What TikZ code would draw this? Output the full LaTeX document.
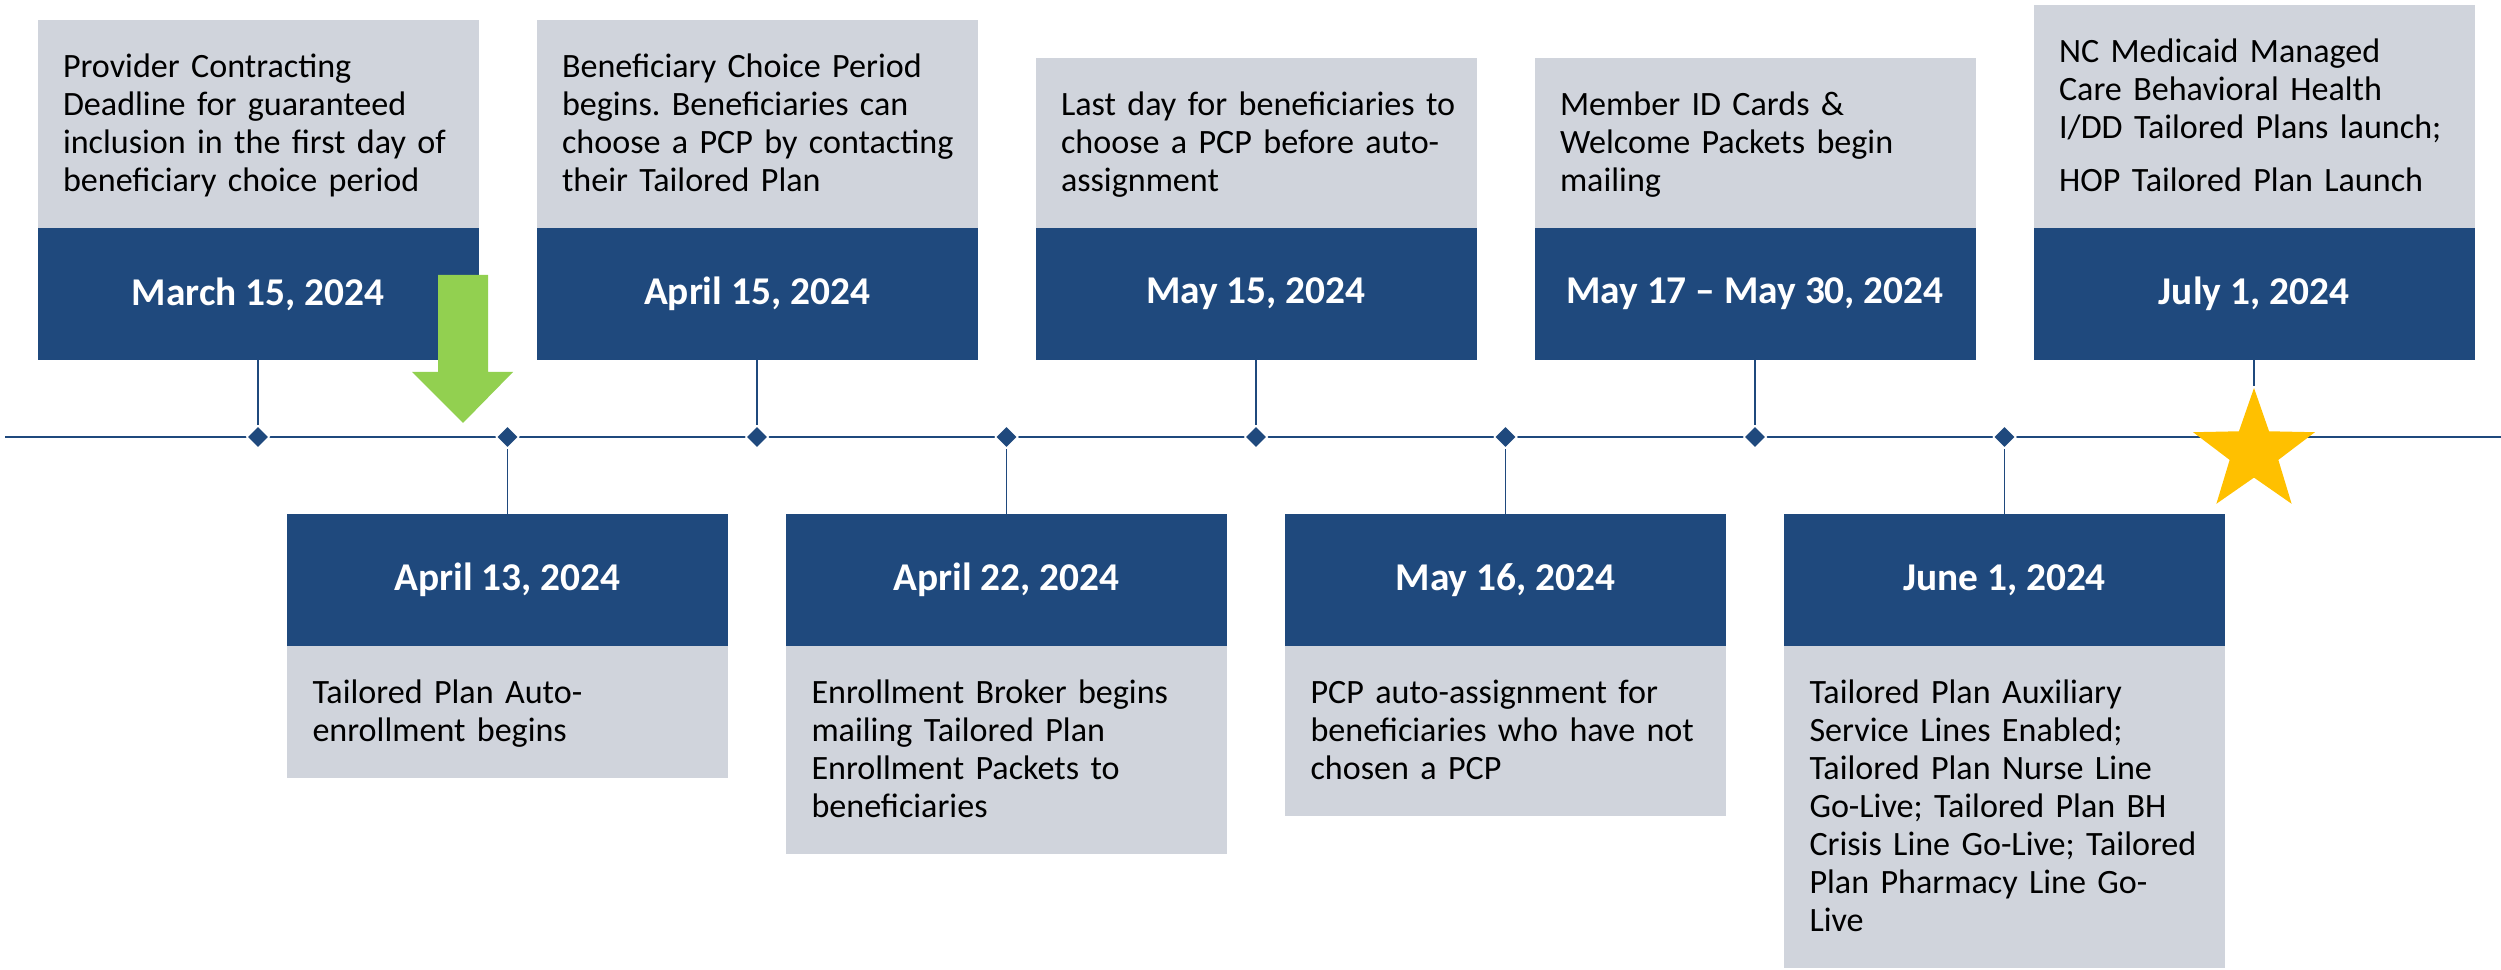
\documentclass[tikz,border=0pt]{standalone}
\usepackage{fontspec}
\setmainfont{Carlito}
\usetikzlibrary{positioning,shapes.geometric}
\frenchspacing

\definecolor{bleu}{RGB}{31,73,125}
\definecolor{gris}{RGB}{208,212,220}
\definecolor{vert}{RGB}{146,208,80}
\definecolor{or}{RGB}{255,192,0}

\begin{document}
\begin{tikzpicture}[
        x=0.1mm, y=0.1mm,
        node distance={24.95mm},
        jalon/.style = {diamond, fill=bleu, draw=white, line width=0.15mm, minimum width=2.3mm, minimum height=2.3mm, inner sep=0pt},
        jour/.style = {on grid, fill=bleu, text=white, font=\fontsize{11.2}{13}\selectfont\bfseries, minimum width=44.1mm, minimum height=13.2mm, inner sep=0pt, outer sep=0pt},
        texte/.style = {fill=gris, font=\fontsize{9.7}{10.8}\selectfont, text width=43mm, align=left, inner xsep=0.55mm, inner ysep=2.5mm, outer sep=0pt, execute at begin node={\leftskip=2mm\rule{0pt}{3.3mm}}, execute at end node=\strut},
        lien/.style = {draw=bleu, line width=0.15mm}
    ]
        \useasboundingbox (0,0) rectangle (2501,-970);

        % Ligne du temps
        \coordinate (debut) at (5,-437);
        \coordinate (fin) at (2501,-437);
        \draw[bleu, line width=0.28mm] (debut) -- (fin);

        % Jalons (positionnement relatif)
        \node[jalon] (j1) at (258,-437) {};
        \node[jalon] (j2) [right of=j1] {};
        \node[jalon] (j3) [right of=j2] {};
        \node[jalon] (j4) [right of=j3] {};
        \node[jalon] (j5) [right of=j4] {};
        \node[jalon] (j6) [right of=j5] {};
        \node[jalon] (j7) [right of=j6] {};
        \node[jalon] (j8) [right of=j7] {};
        \node[star, star points=5, star point ratio=2.5, minimum size=12.8mm, inner sep=0pt, fill=or] (etoile) [right of=j8, yshift=-1.5mm] {};

        % Dates au-dessus de la ligne
        \node[jour] (mar15) [above=14.3mm of j1] {March 15, 2024};
        \node[jour] (avr15) [above=14.3mm of j3] {April 15, 2024};
        \node[jour] (mai15) [above=14.3mm of j5] {May 15, 2024};
        \node[jour] (mai17) [above=14.3mm of j7] {May 17 -- May 30, 2024};
        \node[jour] (juil1) [above=15.8mm of etoile] {July 1, 2024};

        % Dates en dessous de la ligne
        \node[jour] (avr13) [below=14.3mm of j2] {April 13, 2024};
        \node[jour] (avr22) [below=14.3mm of j4] {April 22, 2024};
        \node[jour] (mai16) [below=14.3mm of j6] {May 16, 2024};
        \node[jour] (juin1) [below=14.3mm of j8] {June 1, 2024};

        % Descriptions
        \node[texte] (mar15t) [above=0pt of mar15] {Provider Contracting\\Deadline for guaranteed\\inclusion in the first day of\\beneficiary choice period};
        \node[texte] (avr15t) [above=0pt of avr15] {Beneficiary Choice Period\\begins. Beneficiaries can\\choose a PCP by contacting\\their Tailored Plan};
        \node[texte] (mai15t) [above=0pt of mai15] {Last day for beneficiaries to\\choose a PCP before auto-\\assignment};
        \node[texte] (mai17t) [above=0pt of mai17] {Member ID Cards \&\\Welcome Packets begin\\mailing};
        \node[texte] (juil1t) [above=0pt of juil1] {NC Medicaid Managed\\Care Behavioral Health\\I/DD Tailored Plans launch;\\[1.5mm]HOP Tailored Plan Launch};
        \node[texte] (avr13t) [below=0pt of avr13] {Tailored Plan Auto-\\enrollment begins};
        \node[texte] (avr22t) [below=0pt of avr22] {Enrollment Broker begins\\mailing Tailored Plan\\Enrollment Packets to\\beneficiaries};
        \node[texte] (mai16t) [below=0pt of mai16] {PCP auto-assignment for\\beneficiaries who have not\\chosen a PCP};
        \node[texte] (juin1t) [below=0pt of juin1] {Tailored Plan Auxiliary\\Service Lines Enabled;\\Tailored Plan Nurse Line\\Go-Live; Tailored Plan BH\\Crisis Line Go-Live; Tailored\\Plan Pharmacy Line Go-\\Live};

        % Liaisons dates - jalons
        \draw[lien] (mar15) -- (j1);
        \draw[lien] (j2) -- (avr13);
        \draw[lien] (avr15) -- (j3);
        \draw[lien] (j4) -- (avr22);
        \draw[lien] (mai15) -- (j5);
        \draw[lien] (j6) -- (mai16);
        \draw[lien] (mai17) -- (j7);
        \draw[lien] (j8) -- (juin1);
        \draw[lien] (juil1) -- (etoile);

        % Flèche verte
        \fill[vert] (438,-275) -- (488,-275) -- (488,-372) -- (513,-372) -- (463,-423) -- (412,-372) -- (438,-372) -- cycle;
    \end{tikzpicture}
\end{document}
